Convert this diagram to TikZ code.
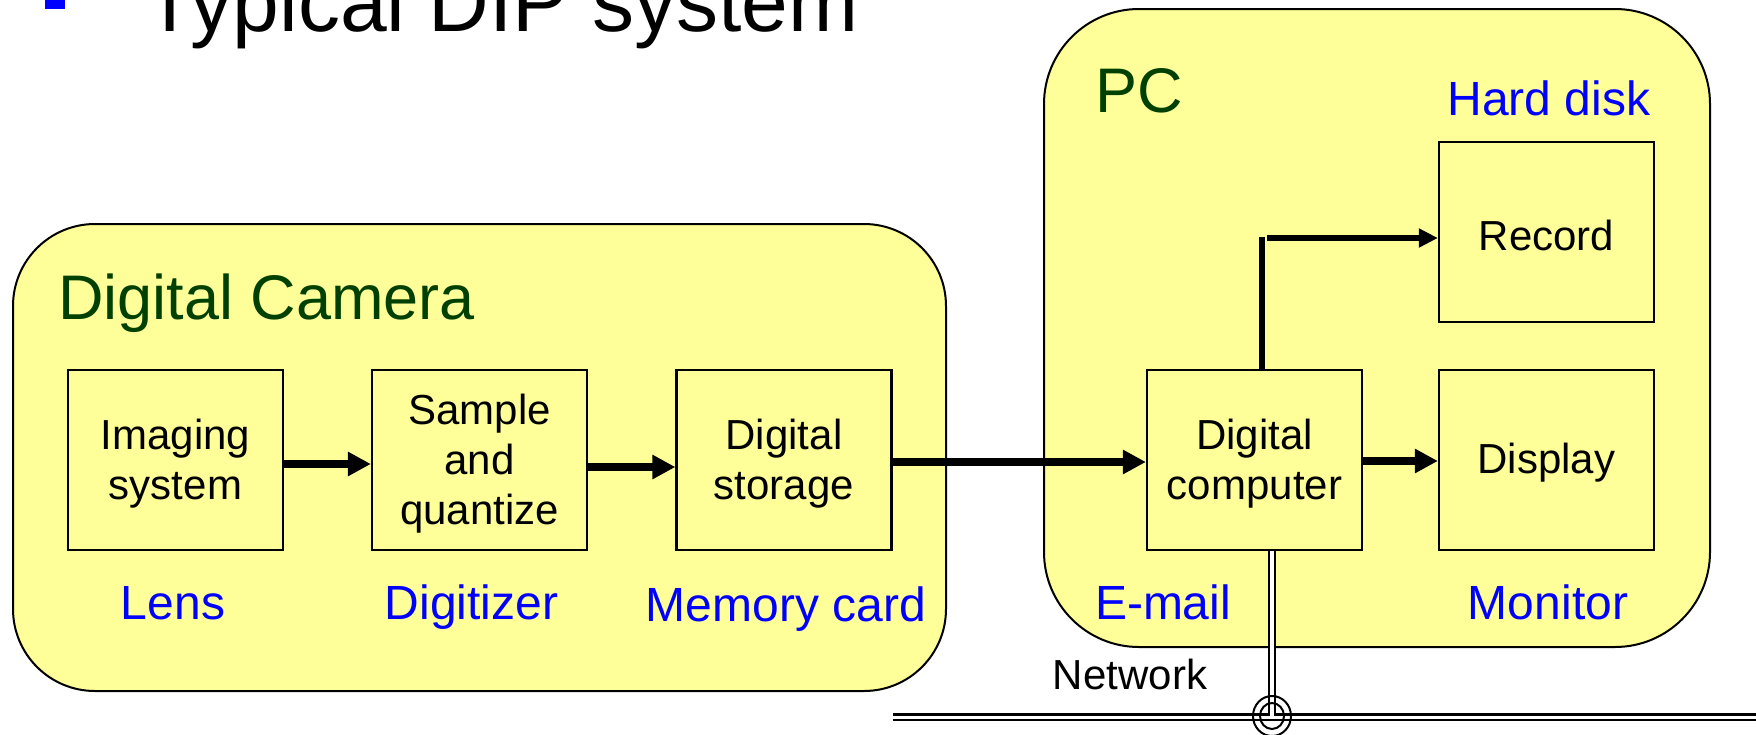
\documentclass[tikz,border=0pt]{standalone}
\usepackage{fontspec}
\setmainfont{Liberation Sans}
\usetikzlibrary{arrows.meta}
\definecolor{boxyellow}{RGB}{255,255,153}
\definecolor{titlegreen}{RGB}{0,64,0}
\definecolor{labelblue}{RGB}{0,0,255}
\begin{document}
\begin{tikzpicture}[x=1pt,y=-1pt,
  panel/.style={draw, line width=2pt, fill=boxyellow, inner sep=0pt},
  unit/.style={draw, line width=2.2pt, fill=boxyellow, minimum width=215pt,
    minimum height=180pt, inner sep=0pt},
  unittext/.style={inner sep=0pt, align=center,
    font=\fontsize{42}{50}\selectfont},
  flow/.style={line width=7.5pt, -{Triangle[length=23pt,width=23pt]}},
  thinflow/.style={line width=5.5pt, -{Triangle[length=19pt,width=18pt]}},
  plainline/.style={line width=6pt},
  heading/.style={anchor=base west, inner sep=0pt, text=titlegreen,
    font=\fontsize{63}{70}\selectfont},
  tag/.style={anchor=base, inner sep=0pt, text=labelblue,
    font=\fontsize{48}{56}\selectfont},
  netline/.style={draw=black, line width=2.4pt, double=white, double distance=3pt},
  tapline/.style={draw=black, line width=1.8pt, double=white, double distance=4.5pt}
]
\useasboundingbox (0,0) rectangle (1756,734);
\clip (0,0) rectangle (1756,734);

% slide title with its bullet
\fill[labelblue] (45,-12) rectangle (65,9);
\node[anchor=base west, inner sep=0pt, font=\fontsize{84}{90}\selectfont] (title) at (144,31) {Typical DIP system};

% enclosing panels
\node[panel, rounded corners=82pt, minimum width=933pt, minimum height=467pt] (camera) at (479.5,457.5) {};
\node[panel, rounded corners=95pt, minimum width=666pt, minimum height=638pt] (pc) at (1377,328) {};

\node[heading] (cameratitle) at (58,319) {Digital Camera};
\node[heading] (pctitle) at (1095,112) {PC};

% processing units
\node[unit] (imaging) at (175.5,460) {};
\node[unit] (sample) at (479.5,460) {};
\node[unit] (storage) at (784,460) {};
\node[unit] (computer) at (1254.5,460) {};
\node[unit] (display) at (1546.5,460) {};
\node[unit] (record) at (1546.5,232) {};

\node[unittext] (imagingtext) at ([yshift=-4pt]imaging.center) {Imaging\\system};
\node[unittext] (sampletext) at ([yshift=-4pt]sample.center) {Sample\\and\\quantize};
\node[unittext] (storagetext) at ([yshift=-4pt]storage.center) {Digital\\storage};
\node[unittext] (computertext) at ([yshift=-4pt]computer.center) {Digital\\computer};
\node[unittext] (displaytext) at ([yshift=-3pt]display.center) {Display};
\node[unittext] (recordtext) at ([yshift=-3pt]record.center) {Record};

% data flow
\draw[flow] ([yshift=-4pt]imaging.east) -- ([yshift=-4pt]sample.west);
\draw[flow] ([yshift=-7pt]sample.east) -- ([yshift=-7pt]storage.west);
\draw[flow] ([yshift=-2pt]storage.east) -- ([yshift=-2pt]computer.west);
\draw[flow] ([yshift=-1pt]computer.east) -- ([yshift=-1pt]display.west);
\coordinate (bend) at (1262,237);
\draw[plainline] (computer.north -| bend) -- (bend);
\draw[thinflow] ([xshift=5pt,yshift=-1pt]bend) -- ([yshift=-1pt]bend -| record.west);

% network connection
\coordinate (tap) at (1272,716);
\coordinate (netL) at (893,717);
\coordinate (netR) at (1756,717);
\draw[netline] (netL) -- (netR);
\draw[tapline] (computer.south -| tap) -- (tap);
\draw[line width=2pt] (tap) circle[x radius=19pt, y radius=20pt];
\draw[line width=2pt] (tap) circle[x radius=12pt, y radius=13pt];
\node[anchor=base, inner sep=0pt, font=\fontsize{42}{49}\selectfont] (network) at (1130,689) {Network};

% device labels
\node[tag] (lens) at (173,619) {Lens};
\node[tag] (digitizer) at (471.5,619) {Digitizer};
\node[tag] (memcard) at (786,621) {Memory card};
\node[tag] (email) at (1163,619) {E-mail};
\node[tag] (monitor) at (1548,619) {Monitor};
\node[tag] (harddisk) at (1549,115) {Hard disk};
\end{tikzpicture}
\end{document}
